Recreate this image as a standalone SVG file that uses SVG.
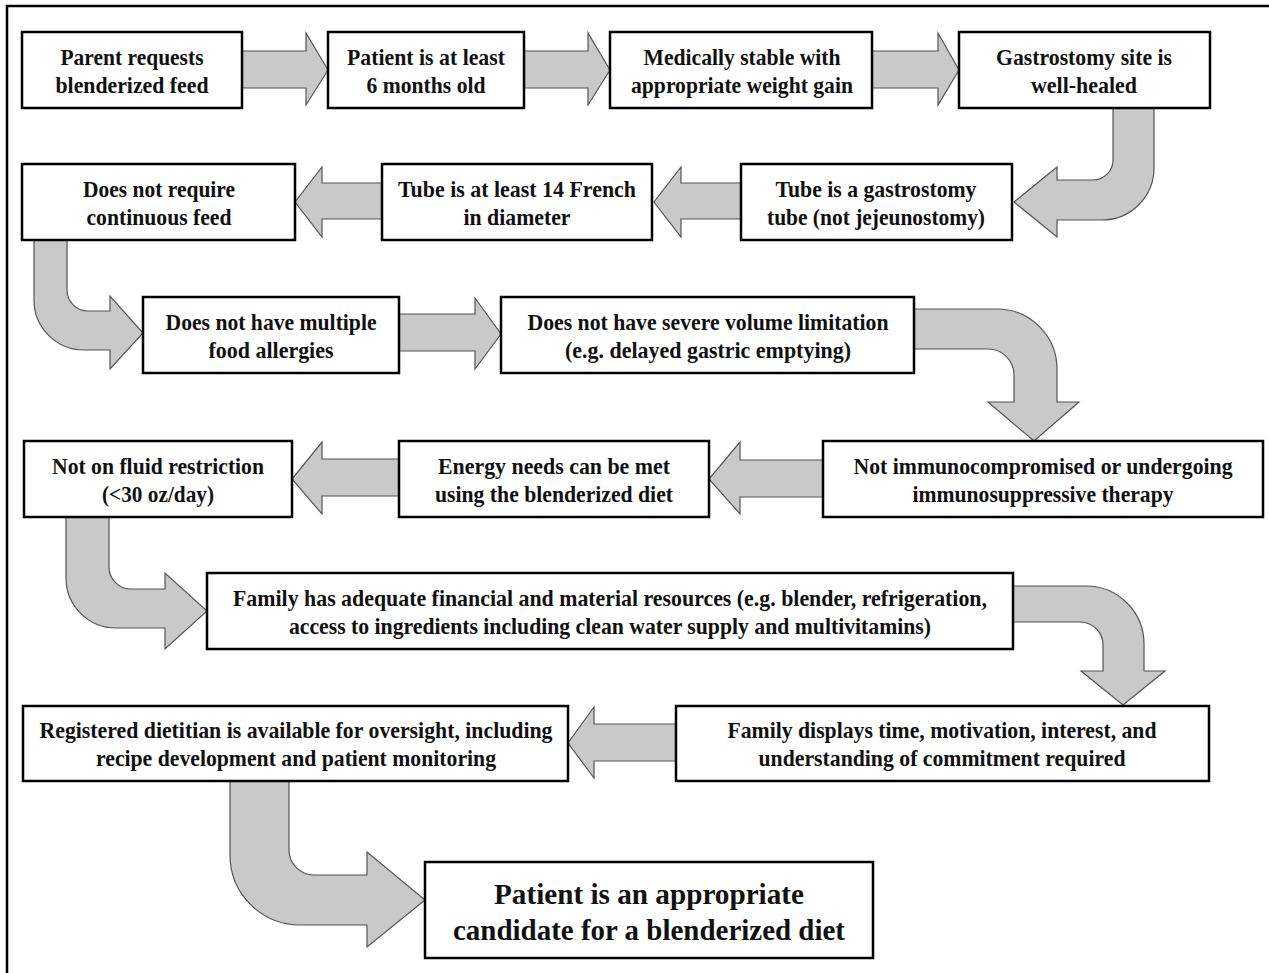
<svg xmlns="http://www.w3.org/2000/svg" width="1269" height="973" viewBox="0 0 1269 973">
<style>
.box{fill:#fff;stroke:#000;stroke-width:2.5}
.arr{fill:#c9c9c9;stroke:#555;stroke-width:1.2;stroke-linejoin:miter}
.t{font-family:"Liberation Serif","Times New Roman",serif;font-size:22.5px;font-weight:bold;fill:#111;text-anchor:middle}
.tb{font-family:"Liberation Serif","Times New Roman",serif;font-size:29px;font-weight:bold;fill:#111;text-anchor:middle}
.frame{stroke:#000;stroke-width:2.5;fill:none}
</style>
<rect width="1269" height="973" fill="#fff"/>
<path class="frame" d="M7,973 L7,6 L1269,6"/>
<g id="connectors">
<path class="arr" d="M242,51 L306,51 L306,33 L328,70 L306,105 L306,88 L242,88 Z"/>
<path class="arr" d="M524,51 L588,51 L588,33 L610,70 L588,105 L588,88 L524,88 Z"/>
<path class="arr" d="M872,51 L938,51 L938,33 L959,70 L938,105 L938,88 L872,88 Z"/>
<path class="arr" d="M1113,108 L1154,108 L1154,168 A52,52 0 0 1 1102,220 L1057,220 L1057,237 L1014,202 L1057,167 L1057,180 L1093,180 A20,20 0 0 0 1113,160 Z"/>
<path class="arr" d="M741,183 L681,183 L681,167 L654,202 L681,237 L681,219 L741,219 Z"/>
<path class="arr" d="M382,183 L322,183 L322,167 L295,202 L322,237 L322,219 L382,219 Z"/>
<path class="arr" d="M34,240 L67,240 L67,290 A21,21 0 0 0 88,311 L110,311 L110,296 L143,333 L110,369 L110,350 L84,350 A50,50 0 0 1 34,300 Z"/>
<path class="arr" d="M399,314 L475,314 L475,298 L501,334 L475,369 L475,351 L399,351 Z"/>
<path class="arr" d="M914,309 L997,309 A60,60 0 0 1 1057,369 L1057,402 L1079,402 L1034,441 L988,402 L1014,402 L1014,375 A26,26 0 0 0 988,349 L914,349 Z"/>
<path class="arr" d="M823,460 L740,460 L740,442 L709,479 L740,514 L740,497 L823,497 Z"/>
<path class="arr" d="M399,459 L322,459 L322,442 L292,479 L322,514 L322,496 L399,496 Z"/>
<path class="arr" d="M66,517 L109,517 L109,567 A22,22 0 0 0 131,589 L165,589 L165,573 L207,611 L165,649 L165,628 L116,628 A50,50 0 0 1 66,578 Z"/>
<path class="arr" d="M1013,586 L1086,586 A58,58 0 0 1 1144,644 L1144,671 L1165,671 L1123,705 L1081,671 L1103,671 L1103,645 A23,23 0 0 0 1080,622 L1013,622 Z"/>
<path class="arr" d="M676,724 L594,724 L594,707 L568,743 L594,778 L594,761 L676,761 Z"/>
<path class="arr" d="M230,781 L289,781 L289,850 A25,25 0 0 0 314,875 L367,875 L367,852 L425,900 L367,947 L367,925 L300,925 A70,70 0 0 1 230,855 Z"/>
</g>
<g id="n1"><rect class="box" x="22" y="32" width="220" height="76"/>
<text class="t" x="132" y="65" textLength="143" lengthAdjust="spacingAndGlyphs">Parent requests</text>
<text class="t" x="132" y="93" textLength="153" lengthAdjust="spacingAndGlyphs">blenderized feed</text></g>
<g id="n2"><rect class="box" x="328" y="32" width="196" height="76"/>
<text class="t" x="426" y="65" textLength="158" lengthAdjust="spacingAndGlyphs">Patient is at least</text>
<text class="t" x="426" y="93" textLength="119" lengthAdjust="spacingAndGlyphs">6 months old</text></g>
<g id="n3"><rect class="box" x="610" y="32" width="262" height="76"/>
<text class="t" x="742" y="65" textLength="197" lengthAdjust="spacingAndGlyphs">Medically stable with</text>
<text class="t" x="742" y="93" textLength="222" lengthAdjust="spacingAndGlyphs">appropriate weight gain</text></g>
<g id="n4"><rect class="box" x="959" y="32" width="251" height="76"/>
<text class="t" x="1084" y="65" textLength="176" lengthAdjust="spacingAndGlyphs">Gastrostomy site is</text>
<text class="t" x="1084" y="93" textLength="106" lengthAdjust="spacingAndGlyphs">well-healed</text></g>
<g id="n5"><rect class="box" x="741" y="164" width="271" height="76"/>
<text class="t" x="876" y="197" textLength="201" lengthAdjust="spacingAndGlyphs">Tube is a gastrostomy</text>
<text class="t" x="876" y="225" textLength="218" lengthAdjust="spacingAndGlyphs">tube (not jejeunostomy)</text></g>
<g id="n6"><rect class="box" x="382" y="164" width="270" height="76"/>
<text class="t" x="517" y="197" textLength="238" lengthAdjust="spacingAndGlyphs">Tube is at least 14 French</text>
<text class="t" x="517" y="225" textLength="107" lengthAdjust="spacingAndGlyphs">in diameter</text></g>
<g id="n7"><rect class="box" x="22" y="164" width="273" height="76"/>
<text class="t" x="159" y="197" textLength="152" lengthAdjust="spacingAndGlyphs">Does not require</text>
<text class="t" x="159" y="225" textLength="145" lengthAdjust="spacingAndGlyphs">continuous feed</text></g>
<g id="n8"><rect class="box" x="143" y="297" width="256" height="76"/>
<text class="t" x="271" y="330" textLength="211" lengthAdjust="spacingAndGlyphs">Does not have multiple</text>
<text class="t" x="271" y="358" textLength="125" lengthAdjust="spacingAndGlyphs">food allergies</text></g>
<g id="n9"><rect class="box" x="501" y="297" width="413" height="76"/>
<text class="t" x="708" y="330" textLength="361" lengthAdjust="spacingAndGlyphs">Does not have severe volume limitation</text>
<text class="t" x="708" y="358" textLength="286" lengthAdjust="spacingAndGlyphs">(e.g. delayed gastric emptying)</text></g>
<g id="n10"><rect class="box" x="823" y="441" width="440" height="76"/>
<text class="t" x="1043" y="474" textLength="379" lengthAdjust="spacingAndGlyphs">Not immunocompromised or undergoing</text>
<text class="t" x="1043" y="502" textLength="261" lengthAdjust="spacingAndGlyphs">immunosuppressive therapy</text></g>
<g id="n11"><rect class="box" x="399" y="441" width="310" height="76"/>
<text class="t" x="554" y="474" textLength="232" lengthAdjust="spacingAndGlyphs">Energy needs can be met</text>
<text class="t" x="554" y="502" textLength="238" lengthAdjust="spacingAndGlyphs">using the blenderized diet</text></g>
<g id="n12"><rect class="box" x="24" y="441" width="268" height="76"/>
<text class="t" x="158" y="474" textLength="212" lengthAdjust="spacingAndGlyphs">Not on fluid restriction</text>
<text class="t" x="158" y="502" textLength="112" lengthAdjust="spacingAndGlyphs">(&lt;30 oz/day)</text></g>
<g id="n13"><rect class="box" x="207" y="573" width="806" height="76"/>
<text class="t" x="610" y="606" textLength="754" lengthAdjust="spacingAndGlyphs">Family has adequate financial and material resources (e.g. blender, refrigeration,</text>
<text class="t" x="610" y="634" textLength="642" lengthAdjust="spacingAndGlyphs">access to ingredients including clean water supply and multivitamins)</text></g>
<g id="n14"><rect class="box" x="676" y="706" width="533" height="75"/>
<text class="t" x="942" y="738" textLength="429" lengthAdjust="spacingAndGlyphs">Family displays time, motivation, interest, and</text>
<text class="t" x="942" y="766" textLength="367" lengthAdjust="spacingAndGlyphs">understanding of commitment required</text></g>
<g id="n15"><rect class="box" x="23" y="706" width="545" height="75"/>
<text class="t" x="296" y="738" textLength="513" lengthAdjust="spacingAndGlyphs">Registered dietitian is available for oversight, including</text>
<text class="t" x="296" y="766" textLength="400" lengthAdjust="spacingAndGlyphs">recipe development and patient monitoring</text></g>
<g id="n16"><rect class="box" x="425" y="862" width="448" height="96"/>
<text class="tb" x="649" y="904" textLength="310" lengthAdjust="spacingAndGlyphs">Patient is an appropriate</text>
<text class="tb" x="649" y="940" textLength="392" lengthAdjust="spacingAndGlyphs">candidate for a blenderized diet</text></g>
</svg>
